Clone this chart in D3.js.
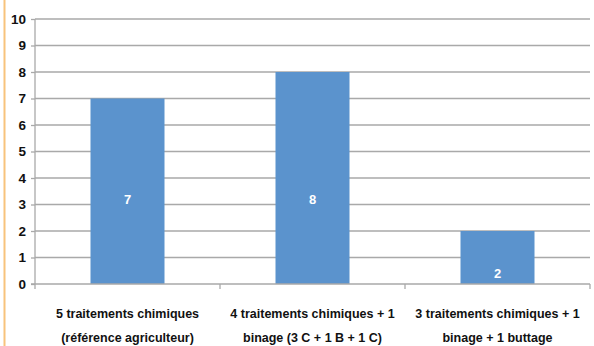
<!DOCTYPE html>
<html>
<head>
<meta charset="utf-8">
<script src="https://cdn.jsdelivr.net/npm/d3@7"></script>
<style>
body { margin: 0; background: #fff; }
text { font-family: "Liberation Sans", Arial, sans-serif; font-weight: bold; }
</style>
</head>
<body>
<div id="chart"></div>
<script>
// data
var categories = [
    ["5 traitements chimiques", "(référence agriculteur)"],
    ["4 traitements chimiques + 1", "binage (3 C + 1 B + 1 C)"],
    ["3 traitements chimiques + 1", "binage + 1 buttage"]
];
var values = [7, 8, 2];
var yTicks = [0, 1, 2, 3, 4, 5, 6, 7, 8, 9, 10];

var W = 594, H = 346;
var margin = { top: 19, right: 4, bottom: 62, left: 35 },
    width = W - margin.left - margin.right,
    height = H - margin.top - margin.bottom;

var svg = d3.select("#chart").append("svg")
    .attr("width", W)
    .attr("height", H);

// orange rule on the left edge
svg.append("line")
    .attr("x1", 4.5).attr("x2", 4.5)
    .attr("y1", 0).attr("y2", H)
    .attr("stroke", "#f8c37c")
    .attr("stroke-width", 2);

var g = svg.append("g")
    .attr("transform", "translate(" + margin.left + "," + margin.top + ")");

var x = d3.scaleBand()
    .domain(d3.range(values.length))
    .range([0, width])
    .paddingInner(0.6)
    .paddingOuter(0.3);

var xOuter = d3.scaleBand()
    .domain(d3.range(values.length))
    .range([0, width]);

var y = d3.scaleLinear()
    .domain([0, 10])
    .range([height, 0]);

// gridlines
g.selectAll("line.grid")
    .data(yTicks.filter(function(d) { return d > 0; }))
    .enter().append("line")
    .attr("class", "grid")
    .attr("x1", 0).attr("x2", width)
    .attr("y1", function(d) { return y(d); })
    .attr("y2", function(d) { return y(d); })
    .attr("stroke", "#a9a9a9")
    .attr("stroke-width", 1.3);

// bars
g.selectAll("rect.bar")
    .data(values)
    .enter().append("rect")
    .attr("class", "bar")
    .attr("x", function(d, i) { return x(i); })
    .attr("width", x.bandwidth())
    .attr("y", function(d) { return y(d); })
    .attr("height", function(d) { return height - y(d); })
    .attr("fill", "#5b93cd");

// value labels (sit low in the bar, like the original)
g.selectAll("text.val")
    .data(values)
    .enter().append("text")
    .attr("class", "val")
    .attr("x", function(d, i) { return x(i) + x.bandwidth() / 2; })
    .attr("y", function(d) { return d > 3 ? y(3.2) + 5 : y(d * 0.21) + 5; })
    .attr("text-anchor", "middle")
    .attr("fill", "#fff")
    .style("font-size", "13px")
    .text(function(d) { return d; });

// y axis
var yAxis = g.append("g")
    .call(d3.axisLeft(y).tickValues(yTicks).tickSize(4).tickPadding(5));
yAxis.select(".domain").attr("stroke", "#a9a9a9").attr("stroke-width", 1.3)
    .attr("d", "M0," + height + "V0");
yAxis.selectAll(".tick line").attr("stroke", "#a9a9a9").attr("stroke-width", 1.3);
yAxis.selectAll(".tick text")
    .attr("fill", "#111")
    .style("font-size", "13.5px")
    .style("font-family", "'Liberation Sans', Arial, sans-serif")
    .style("font-weight", "bold");

// x axis line + category ticks
g.append("line")
    .attr("x1", -4).attr("x2", width)
    .attr("y1", height).attr("y2", height)
    .attr("stroke", "#a9a9a9")
    .attr("stroke-width", 1.3);

g.selectAll("line.xtick")
    .data(d3.range(values.length + 1))
    .enter().append("line")
    .attr("class", "xtick")
    .attr("x1", function(i) { return i < values.length ? xOuter(i) : width; })
    .attr("x2", function(i) { return i < values.length ? xOuter(i) : width; })
    .attr("y1", height)
    .attr("y2", height + 5)
    .attr("stroke", "#a9a9a9")
    .attr("stroke-width", 1.3);

var cat = g.selectAll("text.cat")
    .data(categories)
    .enter().append("text")
    .attr("class", "cat")
    .attr("text-anchor", "middle")
    .attr("fill", "#111")
    .style("font-size", "12.5px")
    .attr("transform", function(d, i) {
        return "translate(" + (xOuter(i) + xOuter.bandwidth() / 2) + "," + (height + 34) + ")";
    });

cat.selectAll("tspan")
    .data(function(d) { return d; })
    .enter().append("tspan")
    .attr("x", 0)
    .attr("y", function(d, j) { return j * 24; })
    .text(function(d) { return d; });
</script>
</body>
</html>
